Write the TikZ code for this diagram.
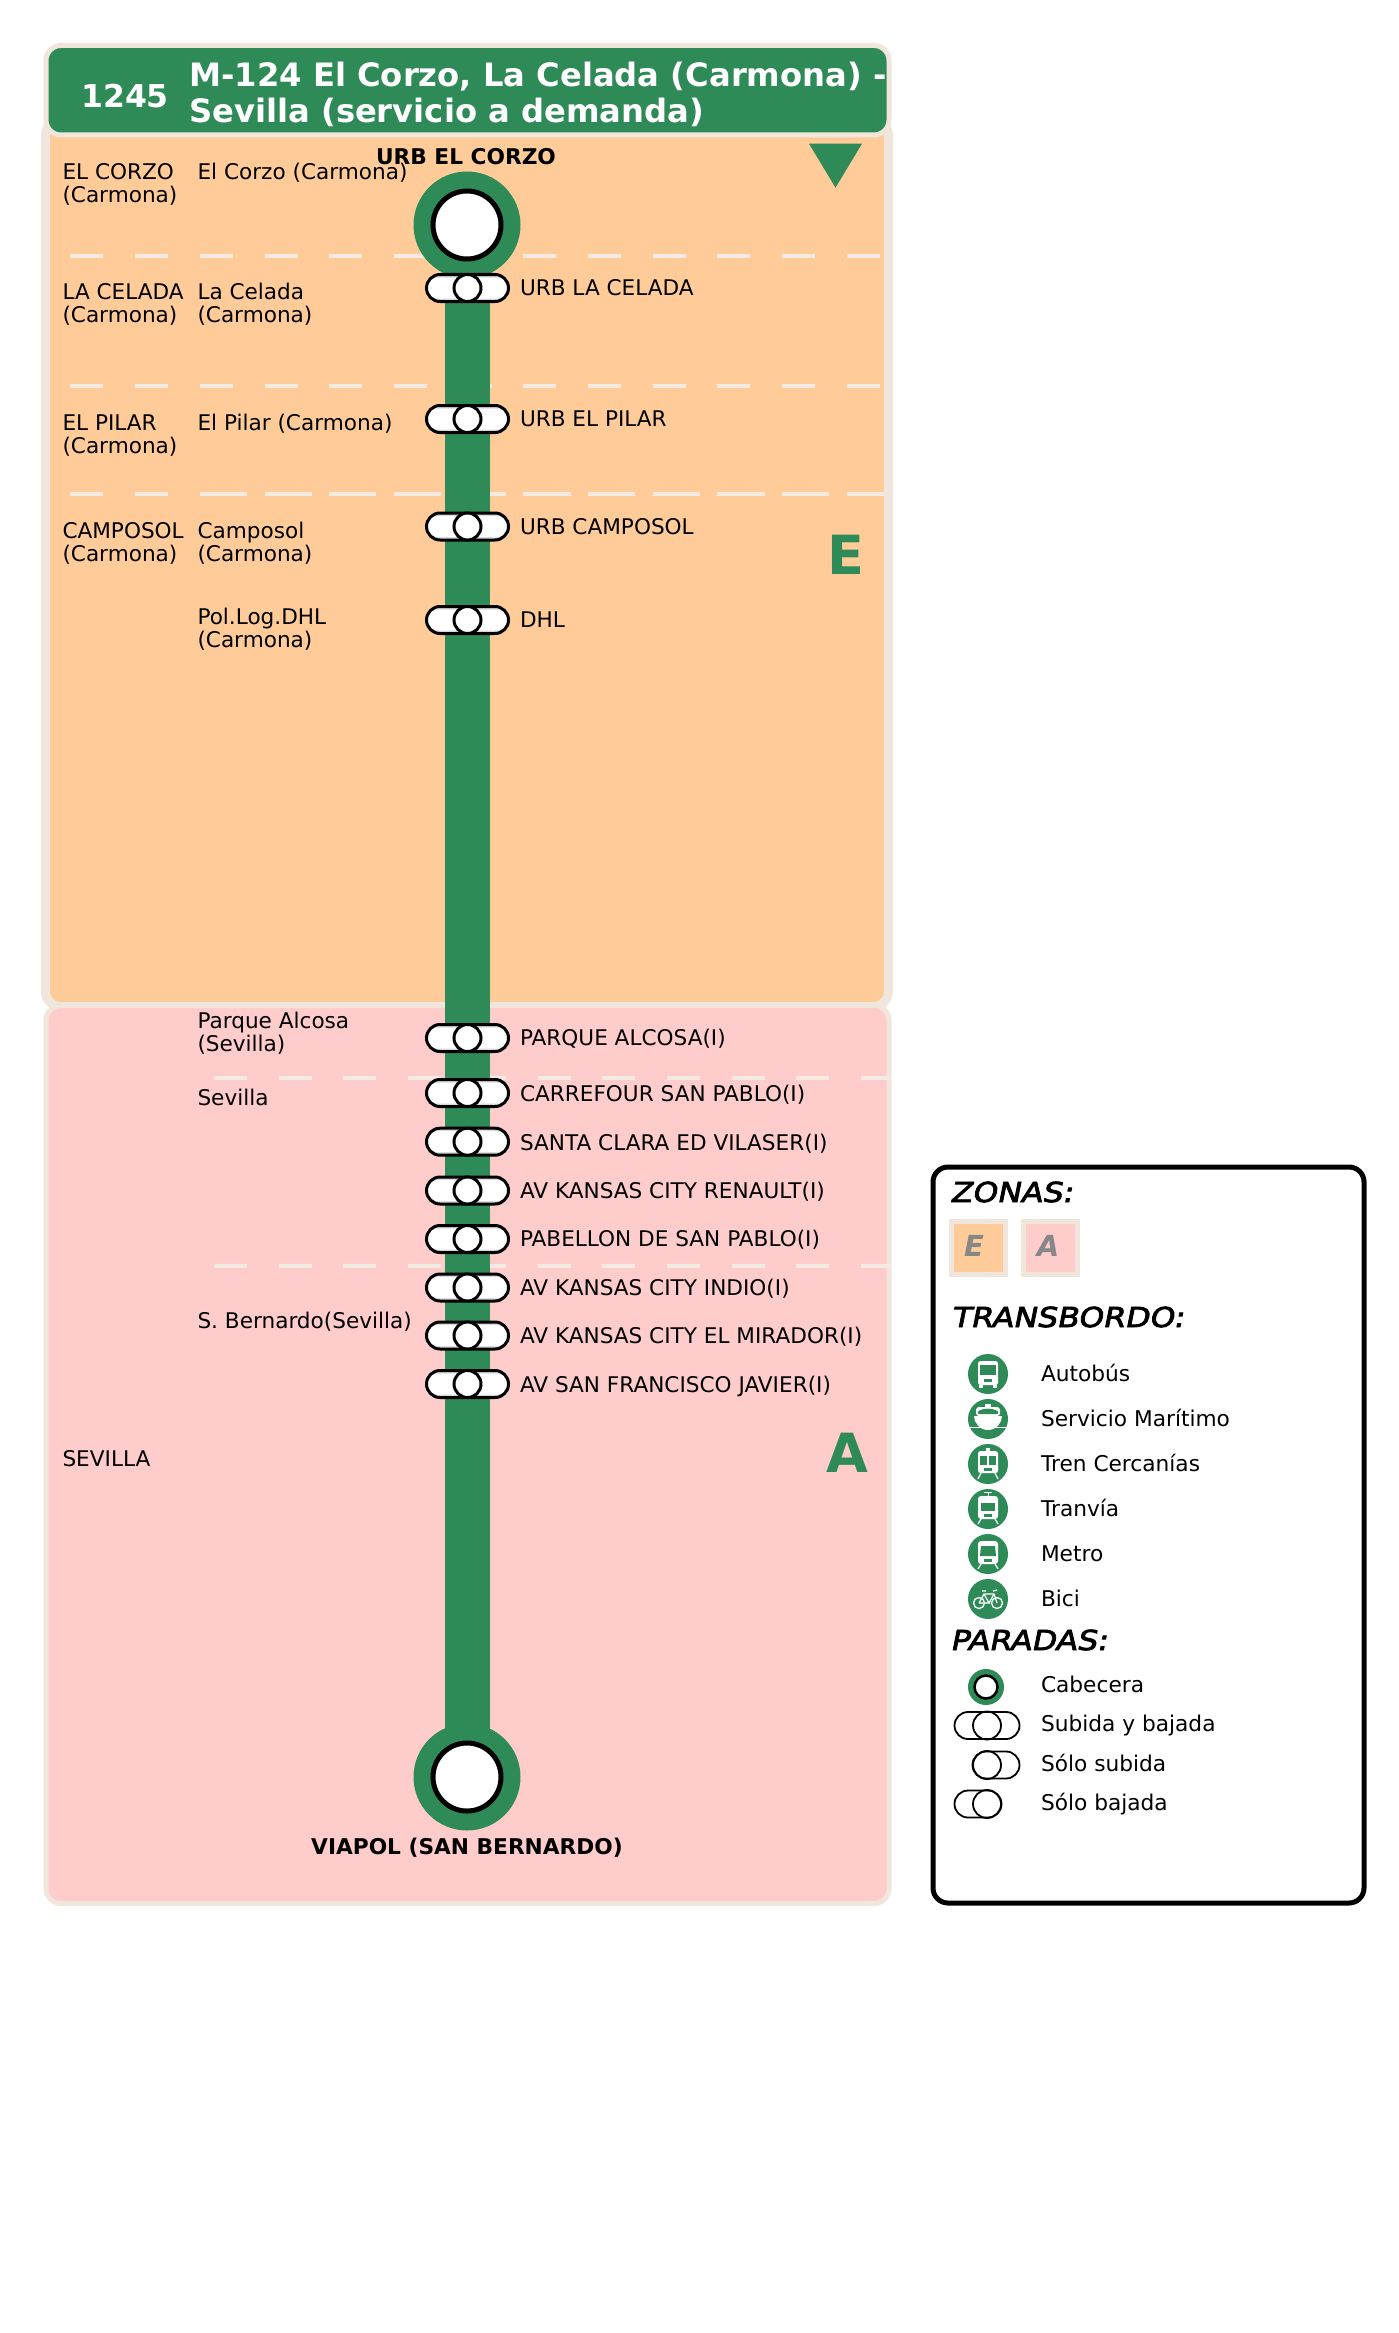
\documentclass[tikz,border=0pt]{standalone}
\usepackage{fontspec}
\usetikzlibrary{shapes.misc}
\setmainfont{DejaVu Sans}
\newfontfamily\headfont[FakeStretch=1.15,FakeSlant=0.2]{DejaVu Sans}
\newcommand{\strokedtext}[1]{\special{pdf:code 2 Tr 0.8 w}#1\special{pdf:code 0 Tr 1 w}}
\definecolor{routegreen}{HTML}{2E8B57}
\definecolor{zoneE}{HTML}{FFCC99}
\definecolor{zoneA}{HTML}{FFCCCC}
\definecolor{cream}{HTML}{F0E6DC}
\definecolor{dashcream}{HTML}{F3EAE1}
\newcommand{\fs}[1]{\fontsize{#1}{#1}\selectfont}
\tikzset{
  lab/.style={anchor=base west,inner sep=0pt,outer sep=0pt,align=left,font=\fontsize{21.6}{23}\selectfont},
  stoplab/.style={anchor=base west,inner sep=0pt,outer sep=0pt,font=\fs{21.6}},
  termlab/.style={anchor=base,inner sep=0pt,outer sep=0pt,font=\fs{21.7}\bfseries},
  pill/.style={draw=black,line width=3pt,rounded corners=13.5pt,minimum width=82pt,minimum height=27pt,inner sep=0pt,outer sep=0pt},
  pillshade/.style={fill=black!15,rounded corners=13pt,minimum width=81pt,minimum height=26pt,inner sep=0pt,outer sep=0pt},
  pillwhite/.style={fill=white,rounded corners=10.5pt,minimum width=81pt,minimum height=21pt,inner sep=0pt,outer sep=0pt},
  stopcirc/.style={draw=black,line width=3pt,fill=white,circle,minimum size=27pt,inner sep=0pt,outer sep=0pt},
  terminal/.style={circle,fill=routegreen,minimum size=107pt,inner sep=0pt,outer sep=0pt},
  terminner/.style={circle,draw=black,line width=5pt,fill=white,minimum size=68pt,inner sep=0pt,outer sep=0pt},
  sepline/.style={draw=dashcream,line width=4pt,dash pattern=on 33pt off 31.7pt},
  iconbg/.style={circle,fill=routegreen,minimum size=40pt,inner sep=0pt,outer sep=0pt},
  legtext/.style={anchor=base west,inner sep=0pt,outer sep=0pt,font=\fs{21.7}},
  leghead/.style={anchor=base west,inner sep=0pt,outer sep=0pt,font=\fs{27.5}\headfont},
  legpill/.style={draw=black,line width=1.8pt,rounded corners=13.5pt,minimum height=27pt,inner sep=0pt,outer sep=0pt},
  legcirc/.style={draw=black,line width=1.8pt,circle,minimum size=28pt,inner sep=0pt,outer sep=0pt},
  zonelet/.style={anchor=base,inner sep=0pt,outer sep=0pt,text=black!47,font=\fs{29}\bfseries\itshape},
}
\newcommand{\halt}[4]{% name, y, baseline, text
  \node[pillshade] (#1s) at (467.5,#2) {};
  \node[pillwhite] (#1w) at (467.5,#2) {};
  \node[pill] (#1) at (467.5,#2) {};
  \node[stopcirc] (#1c) at (467.5,#2) {};
  \node[stoplab] (#1t) at (520,#3) {#4};
}
\begin{document}
\begin{tikzpicture}[x=1pt,y=-1pt]
\useasboundingbox (0,0) rectangle (1399,2333);
\fill[white] (0,0) rectangle (1399,2333);
% panels
\draw[cream,line width=9pt,fill=zoneE,rounded corners=15pt] (45.5,120) rectangle (888.5,1006.5);
\draw[cream,line width=5pt,fill=zoneA,rounded corners=15pt] (46,1005.5) rectangle (889,1903.5);
\draw[cream,line width=5pt,fill=routegreen,rounded corners=15pt] (46,45.5) rectangle (889,135);
% zone separators
\draw[sepline] (70.4,255.7) -- (884,255.7);
\draw[sepline] (70.4,386.3) -- (884,386.3);
\draw[sepline] (70.4,494.3) -- (884,494.3);
\draw[sepline] (214,494.3) -- (884,494.3);
\draw[sepline] (214,1077.7) -- (891,1077.7);
\draw[sepline] (214,1266) -- (891,1266);
% header
\node[anchor=base west,inner sep=0pt,text=white,font=\fs{31.5}\bfseries] (num) at (81,107.5) {1245};
\begin{scope}
\clip (46,45.5) rectangle (889,135);
\node[anchor=base west,inner sep=0pt,text=white,font=\fs{32.2}\bfseries] (tit1) at (189,87) {M-124 El Corzo, La Celada (Carmona) -};
\node[anchor=base west,inner sep=0pt,text=white,font=\fs{32.2}\bfseries] (tit2) at (189,123) {Sevilla (servicio a demanda)};
\end{scope}
\fill[routegreen] (809,143.7) -- (862,143.7) -- (835.5,187.7) -- cycle;
% zone letters
\node[anchor=base,inner sep=0pt,text=routegreen,font=\fs{54}\bfseries] (zE) at (846,574) {E};
\node[anchor=base,inner sep=0pt,text=routegreen,font=\fs{54}\bfseries] (zA) at (847.5,1472) {A};
% route
\node[terminal] (t1) at (467,225) {};
\node[terminal] (t2) at (467,1777) {};
\draw[routegreen,line width=45pt] (t1.center) -- (t2.center);
\node[terminner] (t1i) at (467,225) {};
\node[terminner] (t2i) at (467,1777) {};
\node[termlab] (t1t) at (466,165) {URB EL CORZO};
\node[termlab] (t2t) at (467,1854) {VIAPOL (SAN BERNARDO)};
% stops
\halt{s1}{288}{295.7}{URB LA CELADA}
\halt{s2}{419}{426.7}{URB EL PILAR}
\halt{s3}{526.5}{534}{URB CAMPOSOL}
\halt{s4}{620}{627.7}{DHL}
\halt{s5}{1038}{1045.7}{PARQUE ALCOSA(I)}
\halt{s6}{1093}{1101}{CARREFOUR SAN PABLO(I)}
\halt{s7}{1141.7}{1150}{SANTA CLARA ED VILASER(I)}
\halt{s8}{1190.5}{1198}{AV KANSAS CITY RENAULT(I)}
\halt{s9}{1239}{1246.7}{PABELLON DE SAN PABLO(I)}
\halt{s10}{1287.5}{1295}{AV KANSAS CITY INDIO(I)}
\halt{s11}{1335.5}{1343.3}{AV KANSAS CITY EL MIRADOR(I)}
\halt{s12}{1384}{1392}{AV SAN FRANCISCO JAVIER(I)}
% place labels (a node's base is that of its last line)
\node[lab] (a1) at (62.5,203) {EL CORZO\\(Carmona)};
\node[lab] (a2) at (197.5,180) {El Corzo (Carmona)};
\node[lab] (b1) at (62.5,322) {LA CELADA\\(Carmona)};
\node[lab] (b2) at (197.5,322) {La Celada\\(Carmona)};
\node[lab] (c1) at (62.5,453) {EL PILAR\\(Carmona)};
\node[lab] (c2) at (197.5,430) {El Pilar (Carmona)};
\node[lab] (d1) at (62.5,561) {CAMPOSOL\\(Carmona)};
\node[lab] (d2) at (197.5,561) {Camposol\\(Carmona)};
\node[lab] (e2) at (197.5,647) {Pol.Log.DHL\\(Carmona)};
\node[lab] (f2) at (197.5,1051) {Parque Alcosa\\(Sevilla)};
\node[lab] (g2) at (197.5,1105) {Sevilla};
\node[lab] (h2) at (197.5,1328) {S. Bernardo(Sevilla)};
\node[lab] (i1) at (62.5,1466) {SEVILLA};
% legend
\draw[black,line width=5pt,fill=white,rounded corners=15pt] (933,1167) rectangle (1364,1903);
\node[leghead] (lz) at (950,1202) {\strokedtext{ZONAS:}};
\draw[cream,line width=5pt,fill=zoneE] (951.5,1221.5) rectangle (1005.5,1274.5);
\draw[cream,line width=5pt,fill=zoneA] (1023.5,1221.5) rectangle (1077.5,1274.5);
\node[zonelet] (lzE) at (974,1256) {E};
\node[zonelet] (lzA) at (1048,1256) {A};
\node[leghead] (lt) at (951,1327) {\strokedtext{TRANSBORDO:}};
\node[leghead] (lp) at (950,1650) {\strokedtext{PARADAS:}};
% icons
\node[iconbg] (ic1) at (988,1374) {};
\begin{scope}[shift={(988,1374)}]
  \fill[white,rounded corners=2.5pt] (-10,-13) rectangle (10,11);
  \fill[routegreen] (-8,-9) rectangle (8,1);
  \fill[routegreen] (-4,5) rectangle (4,8);
  \fill[white] (-9,11) rectangle (-5,14);
  \fill[white] (5,11) rectangle (9,14);
\end{scope}
\node[iconbg] (ic2) at (988,1419) {};
\begin{scope}[shift={(988,1419)}]
  \fill[white] (-3,-15) rectangle (3,-12);
  \fill[white,rounded corners=3pt] (-12,-12) rectangle (12,-3);
  \fill[routegreen,rounded corners=1pt] (-10,-8) .. controls (-3,-11) and (3,-11) .. (10,-8) -- (10,-5) -- (-10,-5) -- cycle;
  \fill[white] (-14,-3) .. controls (-14,4) and (-8,11) .. (0,11) .. controls (8,11) and (14,4) .. (14,-3) -- cycle;
  \draw[white,line width=.7pt] (-18,8) -- (18,8);
\end{scope}
\node[iconbg] (ic3) at (988,1464) {};
\begin{scope}[shift={(988,1464)}]
  \fill[white] (-2,-16) rectangle (2,-13);
  \fill[white,rounded corners=2.5pt] (-10,-13) rectangle (10,9);
  \fill[routegreen] (-8,-8) rectangle (-1,1);
  \fill[routegreen] (1,-8) rectangle (8,1);
  \fill[routegreen] (-4,4) rectangle (4,7);
  \draw[white,line width=1.2pt] (-7,9) -- (-10,15) (7,9) -- (10,15);
\end{scope}
\node[iconbg] (ic4) at (988,1509) {};
\begin{scope}[shift={(988,1509)}]
  \draw[white,line width=1pt] (-4,-17) -- (4,-17) (0,-17) -- (0,-13);
  \fill[white,rounded corners=3pt] (-10,-13) rectangle (10,10);
  \fill[routegreen] (-7,-6) rectangle (7,2);
  \fill[routegreen] (-4,5) rectangle (4,8);
  \draw[white,line width=1.2pt] (-7,10) -- (-10,15) (7,10) -- (10,15);
\end{scope}
\node[iconbg] (ic5) at (988,1554) {};
\begin{scope}[shift={(988,1554)}]
  \fill[white,rounded corners=3pt] (-10,-13) rectangle (10,10);
  \fill[routegreen] (-7,-8) -- (7,-8) -- (8,2) -- (-8,2) -- cycle;
  \fill[routegreen] (-4,5) rectangle (4,8);
  \draw[white,line width=1.2pt] (-7,10) -- (-10,15) (7,10) -- (10,15);
\end{scope}
\node[iconbg] (ic6) at (988,1599) {};
\begin{scope}[shift={(988,1599)}]
  \draw[white,line width=1.3pt] (-9,4) circle (5.5);
  \draw[white,line width=1.3pt] (9,4) circle (5.5);
  \draw[white,line width=1.2pt] (-9,4) -- (-4,-5) -- (6,-5) -- (9,4) (-4,-5) -- (1,4) -- (-9,4) (1,4) -- (6,-5) (-6,-8) -- (-2,-8) (5,-8) -- (9,-9);
\end{scope}
\node[legtext] (i1t) at (1041,1381.7) {Autobús};
\node[legtext] (i2t) at (1041,1426.7) {Servicio Marítimo};
\node[legtext] (i3t) at (1041,1471.7) {Tren Cercanías};
\node[legtext] (i4t) at (1041,1516.7) {Tranvía};
\node[legtext] (i5t) at (1041,1561.7) {Metro};
\node[legtext] (i6t) at (1041,1606.7) {Bici};
% legend stops
\node[circle,fill=routegreen,minimum size=36pt,inner sep=0pt] (p1) at (986,1687) {};
\node[circle,draw=black,line width=2.5pt,fill=white,minimum size=23pt,inner sep=0pt] (p1i) at (986,1687) {};
\node[legpill,minimum width=65pt] (p2) at (987,1725.5) {};
\node[legcirc] (p2c) at (987,1725.5) {};
\node[legpill,minimum width=47pt] (p3) at (996,1765) {};
\node[legcirc] (p3c) at (987,1765) {};
\node[legpill,minimum width=47pt] (p4) at (978,1804) {};
\node[legcirc] (p4c) at (987,1804) {};
\node[legtext] (p1t) at (1041,1692) {Cabecera};
\node[legtext] (p2t) at (1041,1731) {Subida y bajada};
\node[legtext] (p3t) at (1041,1771) {Sólo subida};
\node[legtext] (p4t) at (1041,1810) {Sólo bajada};
\end{tikzpicture}
\end{document}
